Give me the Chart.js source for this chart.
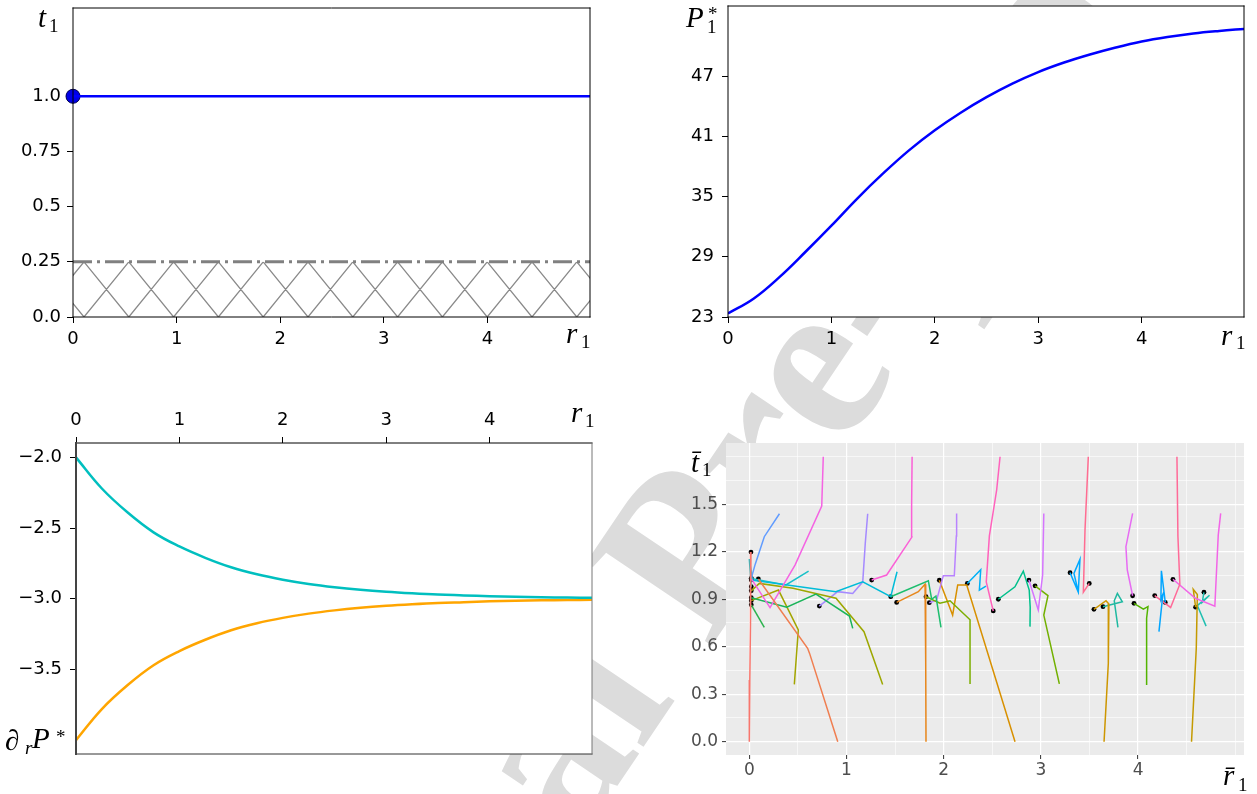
<!DOCTYPE html>
<html>
<head>
<meta charset="utf-8">
<title>Equilibrium in r1</title>
<script src="https://cdn.jsdelivr.net/npm/chart.js@4.4.1/dist/chart.umd.min.js"></script>
<style>
  body { margin: 0; background: #fff; }
  #page { position: relative; width: 1257px; height: 794px; overflow: hidden; background: #fff; }
  .watermark {
    position: absolute; left: 680px; top: 555px;
    transform: translate(-50%, -50%) rotate(-56deg);
    font: bold 230px 'Liberation Serif', serif; color: #dcdcdc;
    white-space: nowrap; line-height: 1; z-index: 0;
  }
  canvas { position: absolute; z-index: 1; }
  .m { position: absolute; z-index: 2; font-family: 'Liberation Serif', serif; line-height: 1; white-space: nowrap; color: #000; }
</style>
</head>
<body>
<div id="page">
  <div class="watermark">Journal Pre-proof</div>
  <canvas id="tl" width="620" height="360" style="left:0;top:0"></canvas>
  <canvas id="tr" width="617" height="360" style="left:640px;top:0"></canvas>
  <canvas id="bl" width="620" height="414" style="left:0;top:380px"></canvas>
  <canvas id="br" width="617" height="374" style="left:640px;top:420px"></canvas>
</div>
<script>
// ---- data ----
const rSamples = [0, 0.25, 0.5, 0.75, 1, 1.25, 1.5, 1.75, 2, 2.25, 2.5, 2.75, 3, 3.25, 3.5, 3.75, 4, 4.25, 4.5, 4.75, 5];
const priceStar = [23.35, 24.85, 27.0, 29.5, 32.1, 34.8, 37.3, 39.6, 41.6, 43.35, 44.9, 46.25, 47.4, 48.35, 49.15, 49.85, 50.45, 50.9, 51.25, 51.5, 51.7];
const slopeUpper = [-2.00, -2.22, -2.39, -2.53, -2.63, -2.71, -2.777, -2.827, -2.865, -2.895, -2.918, -2.936, -2.95, -2.961, -2.97, -2.976, -2.982, -2.986, -2.989, -2.991, -2.993];
const slopeLower = [-4.00, -3.78, -3.61, -3.47, -3.37, -3.29, -3.223, -3.173, -3.135, -3.105, -3.082, -3.064, -3.05, -3.039, -3.03, -3.024, -3.018, -3.014, -3.011, -3.009, -3.007];

const tLineR = [0, 5];
const tOptimal = [1.0, 1.0];
const tBound = [0.25, 0.25];

const rTicks = [0, 1, 2, 3, 4];
const tlYTicks = [0, 0.25, 0.5, 0.75, 1.0];
const tlYLabels = ['0.0', '0.25', '0.5', '0.75', '1.0'];
const trYTicks = [23, 29, 35, 41, 47];
const blYTicks = [-3.5, -3.0, -2.5, -2.0];
const blYLabels = ['\u22123.5', '\u22123.0', '\u22122.5', '\u22122.0'];

const rLimit = [0, 4.99];
const tlYLimit = [0, 1.4];
const trYLimit = [23, 53.98];
const blYLimit = [-4.098, -1.898];

// simulated paths (r1, t1), first point = starting dot
const trajectories = [
  [[0.017, 1.198], [0.012, 0.75], [0.005, 0.39], [0.0, 0.0]],
  [[0.093, 1.028], [0.60, 0.59], [0.62, 0.558], [0.91, 0.0]],
  [[0.02, 1.032], [0.06, 1.12], [0.154, 1.295], [0.31, 1.44]],
  [[0.02, 1.03], [0.213, 0.847], [0.47, 1.116], [0.745, 1.489], [0.761, 1.80]],
  [[0.02, 1.022], [0.89, 0.948], [1.167, 1.01], [1.455, 0.916], [1.52, 1.074]],
  [[0.02, 0.979], [0.0, 1.154], [0.03, 1.03], [0.377, 0.99], [0.61, 1.078]],
  [[0.02, 0.91], [0.385, 0.85], [0.686, 0.933], [1.03, 0.794], [1.064, 0.716]],
  [[0.02, 0.865], [0.154, 0.723]],
  [[0.02, 0.891], [0.30, 0.958], [0.504, 0.706], [0.463, 0.362]],
  [[0.02, 0.953], [0.103, 1.0], [0.45, 0.97], [0.892, 0.906], [1.18, 0.695], [1.372, 0.362]],
  [[0.72, 0.857], [0.909, 0.948], [1.064, 0.937], [1.167, 1.01], [1.193, 1.253], [1.218, 1.44]],
  [[1.259, 1.021], [1.413, 1.053], [1.671, 1.291], [1.67, 1.49], [1.675, 1.8]],
  [[1.455, 0.916], [1.842, 1.017], [1.876, 0.90], [1.92, 0.92], [1.972, 0.722]],
  [[1.516, 0.88], [1.739, 0.948], [1.808, 0.995], [1.815, 0.5], [1.818, 0.0]],
  [[1.818, 0.916], [1.962, 0.875], [2.065, 0.89], [2.271, 0.77], [2.271, 0.365]],
  [[1.852, 0.878], [1.927, 0.894], [1.996, 1.048], [2.109, 1.048], [2.13, 1.3], [2.133, 1.442]],
  [[1.955, 1.02], [2.092, 0.80], [2.144, 0.99], [2.237, 0.99], [2.734, 0.0]],
  [[2.243, 1.0], [2.381, 1.087], [2.367, 0.958], [2.435, 0.983]],
  [[2.51, 0.826], [2.438, 1.01], [2.47, 1.3], [2.545, 1.59], [2.58, 1.8]],
  [[2.562, 0.9], [2.733, 0.979], [2.819, 1.078], [2.88, 0.958], [2.89, 0.85], [2.888, 0.727]],
  [[2.877, 1.021], [2.973, 0.832], [3.018, 1.053], [3.03, 1.442]],
  [[2.94, 0.985], [3.073, 0.923], [3.03, 0.80], [3.19, 0.365]],
  [[3.30, 1.068], [3.385, 0.944], [3.402, 1.152], [3.34, 1.063], [3.38, 0.96]],
  [[3.498, 1.0], [3.437, 0.944], [3.454, 1.337], [3.488, 1.8]],
  [[3.546, 0.836], [3.67, 0.891], [3.70, 0.87], [3.694, 0.495], [3.65, 0.0]],
  [[3.639, 0.853], [3.838, 0.884], [3.787, 0.937], [3.755, 0.89], [3.793, 0.722]],
  [[3.944, 0.922], [3.889, 1.085], [3.875, 1.232], [3.944, 1.442]],
  [[3.958, 0.874], [4.054, 0.838], [4.102, 0.853], [4.088, 0.78], [4.088, 0.358]],
  [[4.28, 0.88], [4.24, 1.08], [4.235, 0.90], [4.255, 0.93], [4.215, 0.695]],
  [[4.171, 0.923], [4.335, 0.848], [4.43, 0.995], [4.41, 1.3], [4.40, 1.8]],
  [[4.359, 1.026], [4.59, 0.906], [4.79, 0.856], [4.825, 1.305], [4.85, 1.442]],
  [[4.592, 0.85], [4.568, 0.963], [4.61, 0.93], [4.599, 0.59], [4.55, 0.0]],
  [[4.678, 0.944], [4.66, 0.88], [4.735, 0.925], [4.61, 0.86], [4.70, 0.73]]
];
const trajColors = [
  '#F8766D', '#F07E50', '#619CFF', '#F564E3', '#00BCD8', '#18C1C8', '#1BB45A', '#2CB34E',
  '#A3A500', '#9DA700', '#A58AFF', '#FB61D7', '#1DBE6E', '#E7861B', '#7CAE00', '#B983FF',
  '#D89000', '#00B0F6', '#FF62BC', '#00C08B', '#D575FE', '#72B000', '#00A9FF', '#FF6C91',
  '#CD9600', '#1EB9A1', '#E76BF3', '#53B400', '#00A5FF', '#FF6A98', '#F265E7', '#C49A00', '#20BFB0'
];

const brXMajor = [0, 1, 2, 3, 4];
const brXLabels = ['0', '1', '2', '3', '4'];
const brXMinor = [0.5, 1.5, 2.5, 3.5, 4.5, 5];
const brYMajor = [0, 0.3, 0.6, 0.9, 1.2, 1.5];
const brYLabels = ['0.0', '0.3', '0.6', '0.9', '1.2', '1.5'];
const brYMinor = [0.15, 0.45, 0.75, 1.05, 1.35, 1.65, 1.8];
const brXLimit = [-0.24, 5.09];
const brYLimit = [-0.084, 1.887];

// ---- helpers ----
function pairs(xs, ys) {
  return xs.map((x, i) => ({ x: x, y: ys[i] }));
}

function fixedTicks(values) {
  return scale => { scale.ticks = values.map(v => ({ value: v })); };
}

// fixed axis box, no extra room for edge labels
function fitTo(cfg) {
  return scale => {
    if (cfg.width) scale.width = cfg.width;
    if (cfg.height) scale.height = cfg.height;
    scale.paddingTop = 0;
    scale.paddingBottom = 0;
    scale.paddingLeft = 0;
    scale.paddingRight = 0;
  };
}

// plot background + spines
const framePlugin = {
  id: 'frame',
  beforeDraw(chart, args, opts) {
    if (!opts.fill) return;
    const a = chart.chartArea, ctx = chart.ctx;
    ctx.save();
    ctx.fillStyle = opts.fill;
    ctx.fillRect(a.left, a.top, a.right - a.left, a.bottom - a.top);
    ctx.restore();
  },
  afterDatasetsDraw(chart, args, opts) {
    if (!opts.sides) return;
    const a = chart.chartArea, ctx = chart.ctx;
    const seg = {
      top: [a.left, a.top, a.right, a.top],
      bottom: [a.left, a.bottom, a.right, a.bottom],
      left: [a.left, a.top, a.left, a.bottom],
      right: [a.right, a.top, a.right, a.bottom]
    };
    ctx.save();
    ctx.lineCap = 'square';
    for (const side in opts.sides) {
      const [color, width] = opts.sides[side];
      const s = seg[side];
      ctx.strokeStyle = color;
      ctx.lineWidth = width;
      ctx.beginPath();
      ctx.moveTo(s[0], s[1]);
      ctx.lineTo(s[2], s[3]);
      ctx.stroke();
    }
    ctx.restore();
  }
};

// cross hatch below the boundary line
const hatchPlugin = {
  id: 'hatch',
  beforeDatasetsDraw(chart, args, opts) {
    if (opts.top === undefined) return;
    const { ctx, chartArea: a, scales: { y } } = chart;
    const yTop = y.getPixelForValue(opts.top);
    const yBot = y.getPixelForValue(0);
    const w = opts.spacing;
    ctx.save();
    ctx.beginPath();
    ctx.rect(a.left, yTop, a.right - a.left, yBot - yTop);
    ctx.clip();
    ctx.strokeStyle = opts.color;
    ctx.lineWidth = opts.width;
    ctx.beginPath();
    for (let x0 = a.left + opts.phase - w; x0 < a.right + w; x0 += w) {
      ctx.moveTo(x0, yBot); ctx.lineTo(x0 + w, yTop);
      ctx.moveTo(x0, yTop); ctx.lineTo(x0 + w, yBot);
    }
    ctx.stroke();
    ctx.restore();
  }
};

Chart.register(framePlugin, hatchPlugin);

const mplFont = { family: 'DejaVu Sans', size: 18 };

function mplScale(cfg) {
  return {
    type: 'linear',
    position: cfg.position,
    min: cfg.limit[0],
    max: cfg.limit[1],
    afterBuildTicks: fixedTicks(cfg.ticks),
    afterFit: fitTo(cfg),
    grid: { display: true, drawOnChartArea: false, drawTicks: true, tickLength: 6, tickColor: '#000', tickWidth: 1 },
    border: { display: false },
    ticks: {
      autoSkip: false, maxRotation: 0, padding: cfg.padding || 6, color: '#000', font: mplFont,
      callback: (v, i) => cfg.labels ? cfg.labels[i] : String(v)
    }
  };
}

function ggScale(cfg) {
  const all = cfg.major.concat(cfg.minor).sort((a, b) => a - b);
  const isMajor = c => c.tick && cfg.major.includes(c.tick.value);
  return {
    type: 'linear',
    position: cfg.position,
    min: cfg.limit[0],
    max: cfg.limit[1],
    afterBuildTicks: fixedTicks(all),
    afterFit: fitTo(cfg),
    grid: {
      display: true, drawOnChartArea: true, drawTicks: true, tickLength: 4,
      color: '#ffffff',
      lineWidth: c => isMajor(c) ? 1.2 : 0.6,
      tickColor: c => isMajor(c) ? '#333333' : 'rgba(0,0,0,0)',
      tickWidth: 1
    },
    border: { display: false },
    ticks: {
      autoSkip: false, maxRotation: 0, padding: cfg.padding, color: '#4d4d4d',
      font: { family: 'DejaVu Sans', size: 17 },
      callback: v => {
        const i = cfg.major.indexOf(v);
        return i >= 0 ? cfg.labels[i] : '';
      }
    }
  };
}

function baseOptions(padding) {
  return {
    responsive: false,
    animation: false,
    devicePixelRatio: 1,
    layout: { padding: padding },
    plugins: { legend: { display: false }, tooltip: { enabled: false } }
  };
}

function lineSet(points, color, width) {
  return { data: points, showLine: true, borderColor: color, borderWidth: width, pointRadius: 0, tension: 0 };
}

function curveSet(points, color, width) {
  return { data: points, showLine: true, borderColor: color, borderWidth: width, pointRadius: 0,
           tension: 0.4, cubicInterpolationMode: 'default' };
}

// ---- top left: t1 ----
const tlOpts = baseOptions({ left: 0, right: 30, top: 6, bottom: 0 });
tlOpts.scales = {
  x: mplScale({ position: 'bottom', limit: rLimit, ticks: rTicks, height: 43 }),
  y: mplScale({ position: 'left', limit: tlYLimit, ticks: tlYTicks, labels: tlYLabels, width: 73 })
};
tlOpts.plugins.frame = { fill: '#ffffff', sides: { top: ['#000', 1], bottom: ['#000', 1], left: ['#000', 1], right: ['#000', 1] } };
tlOpts.plugins.hatch = { top: tBound[0], spacing: 44.8, phase: 11, color: '#8a8a8a', width: 1.3 };
new Chart(document.getElementById('tl'), {
  type: 'scatter',
  data: {
    datasets: [
      Object.assign(lineSet(pairs(tLineR, tBound), '#808080', 3), { borderDash: [19, 5, 3, 5] }),
      lineSet(pairs(tLineR, tOptimal), '#0000ff', 2.5),
      { data: [{ x: tLineR[0], y: tOptimal[0] }], pointRadius: 7, pointBackgroundColor: '#0000e6',
        pointBorderColor: '#00004d', pointBorderWidth: 1, clip: false }
    ]
  },
  options: tlOpts
});

// ---- top right: P1* ----
const trOpts = baseOptions({ left: 0, right: 13, top: 6, bottom: 0 });
trOpts.scales = {
  x: mplScale({ position: 'bottom', limit: rLimit, ticks: rTicks, height: 43 }),
  y: mplScale({ position: 'left', limit: trYLimit, ticks: trYTicks, width: 88, padding: 8 })
};
trOpts.plugins.frame = { fill: '#ffffff', sides: { top: ['#000', 1], bottom: ['#000', 1], left: ['#000', 1], right: ['#000', 1] } };
new Chart(document.getElementById('tr'), {
  type: 'scatter',
  data: { datasets: [curveSet(pairs(rSamples, priceStar), '#0000ff', 2.5)] },
  options: trOpts
});

// ---- bottom left: d_r P* ----
const blOpts = baseOptions({ left: 0, right: 28, top: 0, bottom: 40 });
blOpts.scales = {
  x: mplScale({ position: 'top', limit: rLimit, ticks: rTicks, height: 63 }),
  y: mplScale({ position: 'left', limit: blYLimit, ticks: blYTicks, labels: blYLabels, width: 76, padding: 8 })
};
blOpts.plugins.frame = { fill: '#ffffff', sides: { top: ['#000', 1], bottom: ['#333', 1], left: ['#444', 2], right: ['#777', 1] } };
new Chart(document.getElementById('bl'), {
  type: 'scatter',
  data: {
    datasets: [
      curveSet(pairs(rSamples, slopeUpper), '#00bfbf', 2.5),
      curveSet(pairs(rSamples, slopeLower), '#ffa500', 2.5)
    ]
  },
  options: blOpts
});

// ---- bottom right: simulated paths ----
const brOpts = baseOptions({ left: 0, right: 13, top: 23, bottom: 0 });
brOpts.scales = {
  x: ggScale({ position: 'bottom', limit: brXLimit, major: brXMajor, minor: brXMinor, labels: brXLabels, height: 39, padding: 1 }),
  y: ggScale({ position: 'left', limit: brYLimit, major: brYMajor, minor: brYMinor, labels: brYLabels, width: 86, padding: 4 })
};
brOpts.plugins.frame = { fill: '#ebebeb' };
const brSets = trajectories.map((t, i) => lineSet(t.map(p => ({ x: p[0], y: p[1] })), trajColors[i], 1.5));
brSets.push({
  data: trajectories.map(t => ({ x: t[0][0], y: t[0][1] })),
  pointRadius: 2.4, pointBackgroundColor: '#000', pointBorderWidth: 0, showLine: false
});
new Chart(document.getElementById('br'), {
  type: 'scatter',
  data: { datasets: brSets },
  options: brOpts
});

// ---- math axis labels ----
const page = document.getElementById('page');
function mathLabel(text, x, baseline, size, italic) {
  const el = document.createElement('div');
  el.className = 'm';
  el.textContent = text;
  el.style.fontSize = size + 'px';
  el.style.fontStyle = italic ? 'italic' : 'normal';
  el.style.left = x + 'px';
  el.style.top = (baseline - 0.8375 * size) + 'px';
  page.appendChild(el);
}
mathLabel('t', 38, 27, 29, true);  mathLabel('1', 49, 32, 19, false);
mathLabel('r', 566, 343, 29, true); mathLabel('1', 581, 348, 19, false);
mathLabel('P', 686, 27, 29, true);  mathLabel('*', 708, 20, 19, false); mathLabel('1', 707, 33, 19, false);
mathLabel('r', 1221, 345, 29, true); mathLabel('1', 1236, 349, 19, false);
mathLabel('r', 571, 422, 29, true); mathLabel('1', 585, 427, 19, false);
mathLabel('\u2202', 5, 750, 29, true); mathLabel('r', 25, 754, 19, true);
mathLabel('P', 32, 748, 29, true);  mathLabel('*', 56, 743, 19, false);
mathLabel('t\u0304', 691, 472, 29, true); mathLabel('1', 702, 476, 19, false);
mathLabel('r\u0304', 1223, 785, 29, true); mathLabel('1', 1238, 791, 19, false);
</script>
</body>
</html>
